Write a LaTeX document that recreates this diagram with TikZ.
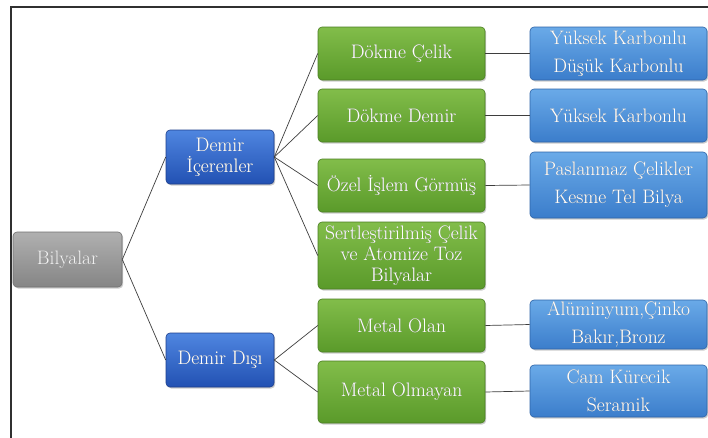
\documentclass[tikz,border=0pt]{standalone}
\usepackage[outline]{contour}
\usetikzlibrary{shadows}
\contourlength{0.45pt}
\contournumber{16}
\newcommand\lbl[1]{\contour{black!45}{#1}}
\definecolor{frameline}{HTML}{303030}
\definecolor{connline}{HTML}{3E3E3E}
\definecolor{grayTop}{HTML}{B0B0B0}
\definecolor{grayBot}{HTML}{858585}
\definecolor{grayEdge}{HTML}{707070}
\definecolor{midTop}{HTML}{4F86E0}
\definecolor{midBot}{HTML}{2251B3}
\definecolor{midEdge}{HTML}{1E3F8C}
\definecolor{grTop}{HTML}{82BD4A}
\definecolor{grBot}{HTML}{5A9A2A}
\definecolor{grEdge}{HTML}{4A7E22}
\definecolor{blTop}{HTML}{6AAAE8}
\definecolor{blBot}{HTML}{3B7DCB}
\definecolor{blEdge}{HTML}{2E64A8}
\begin{document}
\begin{tikzpicture}[x=1pt,y=-1pt,
  box/.style={rounded corners=4pt, align=center, text=white, inner sep=0pt,
    font=\fontsize{19.5}{21}\selectfont, line width=0.6pt,
    drop shadow={shadow xshift=1.2pt, shadow yshift=-1.5pt, opacity=0.4}},
  rootbox/.style={box, draw=grayEdge, top color=grayTop, bottom color=grayBot,
    minimum width=109pt, minimum height=55pt, text=white!92!gray},
  midbox/.style={box, draw=midEdge, top color=midTop, bottom color=midBot,
    minimum width=108pt, minimum height=54pt},
  greenbox/.style={box, draw=grEdge, top color=grTop, bottom color=grBot,
    minimum width=167pt, minimum height=53pt},
  bluebox/.style={box, draw=blEdge, top color=blTop, bottom color=blBot,
    minimum width=177pt, minimum height=53pt, font=\fontsize{19.5}{28}\selectfont},
  conn/.style={draw=connline, line width=0.7pt}
]
\useasboundingbox (0,0) rectangle (708,437);
\fill[white] (-4,-4) rectangle (712,441);

% outer frame
\draw[frameline, line width=1.2pt] (11,441) -- (11,7) -- (712,7);

% root and first level
\node[rootbox] (bil) at (67.5,259.5) {\lbl{Bilyalar}};
\node[midbox] (dic) at (220,157) {\lbl{Demir}\\\lbl{İçerenler}};
\node[midbox] (dd) at (220,360) {\lbl{Demir Dışı}};

% second level
\node[greenbox] (dcel) at (401.5,53.5) {\lbl{Dökme Çelik}};
\node[greenbox] (ddem) at (401.5,115.5) {\lbl{Dökme Demir}};
\node[greenbox] (ozel) at (401.5,185.5) {\lbl{Özel İşlem Görmüş}};
\node[greenbox, minimum height=67pt] (sert) at (401.5,255.5)
  {\lbl{Sertleştirilmiş Çelik}\\\lbl{ve Atomize Toz}\\\lbl{Bilyalar}};
\node[greenbox] (mol) at (401.5,325.5) {\lbl{Metal Olan}};
\node[greenbox, minimum height=62pt] (molm) at (401.5,392) {\lbl{Metal Olmayan}};

% third level
\node[bluebox] (b1) at (618.5,53.5) {\lbl{Yüksek Karbonlu}\\\lbl{Düşük Karbonlu}};
\node[bluebox] (b2) at (618.5,115.5) {\lbl{Yüksek Karbonlu}};
\node[bluebox, minimum height=66pt] (b3) at (618.5,185) {\lbl{Paslanmaz Çelikler}\\\lbl{Kesme Tel Bilya}};
\node[bluebox, minimum height=49pt] (b4) at (618.5,324.5) {\lbl{Alüminyum,Çinko}\\\lbl{Bakır,Bronz}};
\node[bluebox, minimum height=52pt] (b5) at (618.5,391) {\lbl{Cam Kürecik}\\\lbl{Seramik}};

% connectors
\draw[conn] (bil.east) -- (dic.west);
\draw[conn] (bil.east) -- (dd.west);
\foreach \t in {dcel,ddem,ozel,sert} \draw[conn] (dic.east) -- (\t.west);
\foreach \t in {mol,molm} \draw[conn] (dd.east) -- (\t.west);
\draw[conn] (dcel.east) -- (b1.west);
\draw[conn] (ddem.east) -- (b2.west);
\draw[conn] (ozel.east) -- (b3.west);
\draw[conn] (mol.east) -- (b4.west);
\draw[conn] (molm.east) -- (b5.west);
\end{tikzpicture}
\end{document}
